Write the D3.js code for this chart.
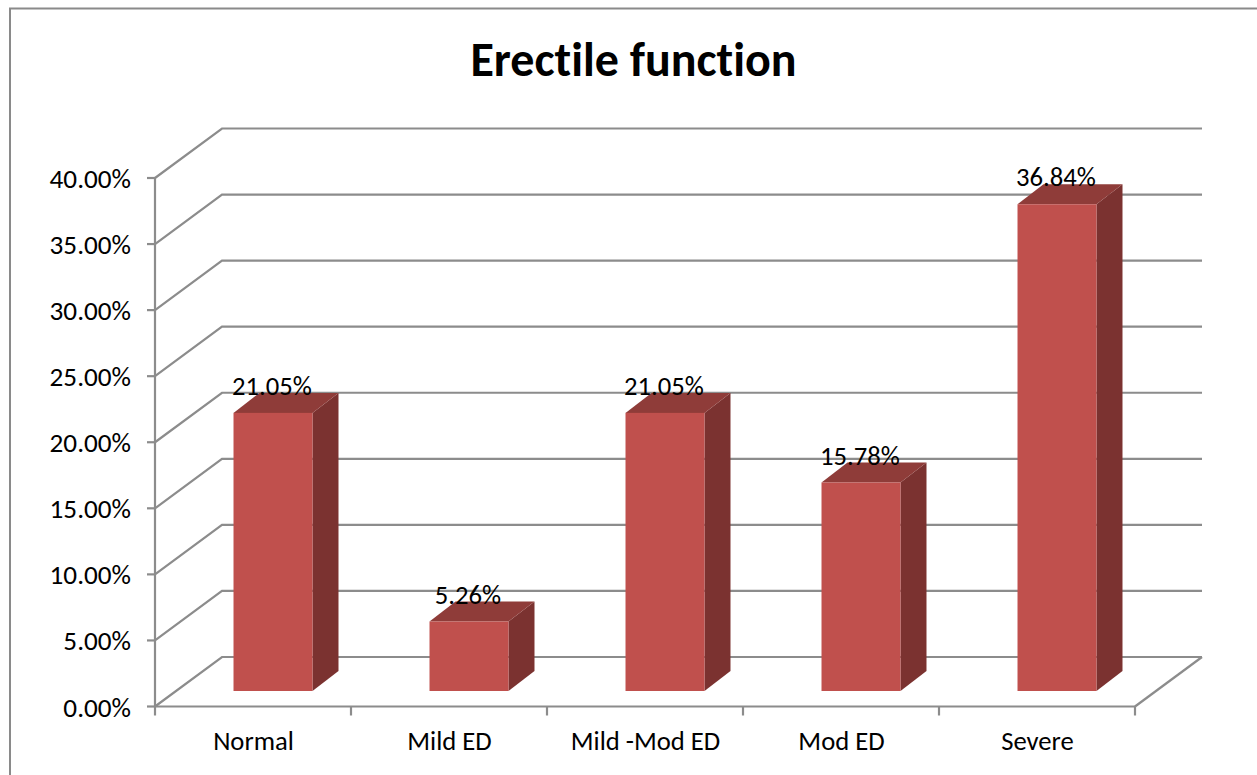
<!DOCTYPE html>
<html>
<head>
<meta charset="utf-8">
<script src="https://cdn.jsdelivr.net/npm/d3@7/dist/d3.min.js"></script>
<style>
  html, body { margin: 0; padding: 0; background: #fff; overflow: hidden; }
  svg { display: block; }
  text { font-family: "Carlito", "Open Sans", "Noto Sans", sans-serif; fill: #000; font-variant-ligatures: none; }
</style>
</head>
<body>
<svg id="chart" width="1257" height="775"></svg>
<script>
// Erectile function categories and their shares
const categories = ["Normal", "Mild ED", "Mild -Mod ED", "Mod ED", "Severe"];
const shares = [21.05, 5.26, 21.05, 15.78, 36.84];
const axisTicks = [0, 5, 10, 15, 20, 25, 30, 35, 40];
const chartTitle = "Erectile function";

const svg = d3.select("#chart");

// Front plane of the 3D box
const frontLeft = 155, frontRight = 1135;
const floorY = 706.5, ceilingY = 178;
// Offset of the back wall from the front plane
const wallDx = 67, wallDy = -49.5;
// Bars stand inside the box, with their own shallower depth
const barShiftX = 21, barShiftY = -15.5;
const barDepthX = 26, barDepthY = -20;

const x = d3.scaleBand().domain(categories).range([frontLeft, frontRight]).paddingInner(0).paddingOuter(0);
const y = d3.scaleLinear().domain([0, 40]).range([floorY, ceilingY]);
const barWidth = x.bandwidth() * 0.403;

const pct = d => d.toFixed(2) + "%";
const gridColor = "#8c8c8c";

// Chart frame: only the left and top edges fall inside the page
svg.append("path")
  .attr("d", "M10,775V8.5H1257")
  .attr("fill", "none").attr("stroke", "#8a8a8a").attr("stroke-width", 2);

svg.append("text")
  .attr("x", 633.5).attr("y", 76)
  .attr("text-anchor", "middle")
  .attr("font-size", 48).attr("font-weight", 700)
  .text(chartTitle);

// Back wall gridlines and their diagonals along the side wall
const grid = svg.append("g").attr("fill", "none").attr("stroke", gridColor).attr("stroke-width", 2.2);
axisTicks.forEach(t => {
  const p = d3.path();
  p.moveTo(frontLeft, y(t));
  p.lineTo(frontLeft + wallDx, y(t) + wallDy);
  p.lineTo(frontRight + wallDx, y(t) + wallDy);
  grid.append("path").attr("d", p.toString());
});

// Floor edge running back from the right end of the front plane
grid.append("line")
  .attr("x1", frontRight).attr("y1", floorY)
  .attr("x2", frontRight + wallDx).attr("y2", floorY + wallDy);

// Vertical axis with outward ticks
const axisG = svg.append("g").attr("stroke", gridColor).attr("stroke-width", 2.2);
axisG.append("line")
  .attr("x1", frontLeft).attr("x2", frontLeft)
  .attr("y1", y(40)).attr("y2", y(0));
axisTicks.forEach(t => {
  axisG.append("line")
    .attr("x1", frontLeft - 8).attr("x2", frontLeft)
    .attr("y1", y(t)).attr("y2", y(t));
});

// Horizontal axis with downward ticks at band edges
axisG.append("line")
  .attr("x1", frontLeft).attr("x2", frontRight)
  .attr("y1", y(0)).attr("y2", y(0));
[...categories.map(c => x(c)), frontRight].forEach(px => {
  axisG.append("line")
    .attr("x1", px).attr("x2", px)
    .attr("y1", y(0)).attr("y2", y(0) + 9);
});

// Tick labels
svg.append("g").selectAll("text").data(axisTicks).join("text")
  .attr("x", 131).attr("y", t => y(t) + 10)
  .attr("text-anchor", "end").attr("font-size", 27.2)
  .text(t => pct(t));

svg.append("g").selectAll("text").data(categories).join("text")
  .attr("x", c => x(c) + x.bandwidth() / 2 + 0.5).attr("y", 750)
  .attr("text-anchor", "middle").attr("font-size", 26.67)
  .text(c => c);

// Bars: front face, top face, right side
const bars = svg.append("g").selectAll("g").data(categories.map((c, i) => ({ c, v: shares[i] }))).join("g");

const barLeft = d => x(d.c) + (x.bandwidth() - barWidth) / 2 + barShiftX - 1;
const barTop = d => y(d.v) + barShiftY;
const barBase = y(0) + barShiftY;

bars.append("path")
  .attr("fill", "#7b3230")
  .attr("d", d => {
    const l = barLeft(d) + barWidth;
    return `M${l},${barTop(d)}L${l + barDepthX},${barTop(d) + barDepthY}L${l + barDepthX},${barBase + barDepthY}L${l},${barBase}Z`;
  });

bars.append("path")
  .attr("fill", "#8f3c39")
  .attr("d", d => {
    const l = barLeft(d), t = barTop(d);
    return `M${l},${t}L${l + barDepthX},${t + barDepthY}L${l + barWidth + barDepthX},${t + barDepthY}L${l + barWidth},${t}Z`;
  });

bars.append("rect")
  .attr("fill", "#c0504d")
  .attr("x", barLeft).attr("y", barTop)
  .attr("width", barWidth).attr("height", d => barBase - barTop(d));

// Value labels sit across the top edge of each bar
bars.append("text")
  .attr("x", d => barLeft(d) + barWidth / 2 - 1)
  .attr("y", d => barTop(d) - 18)
  .attr("text-anchor", "middle").attr("font-size", 26.67)
  .text(d => pct(d.v));
</script>
</body>
</html>
